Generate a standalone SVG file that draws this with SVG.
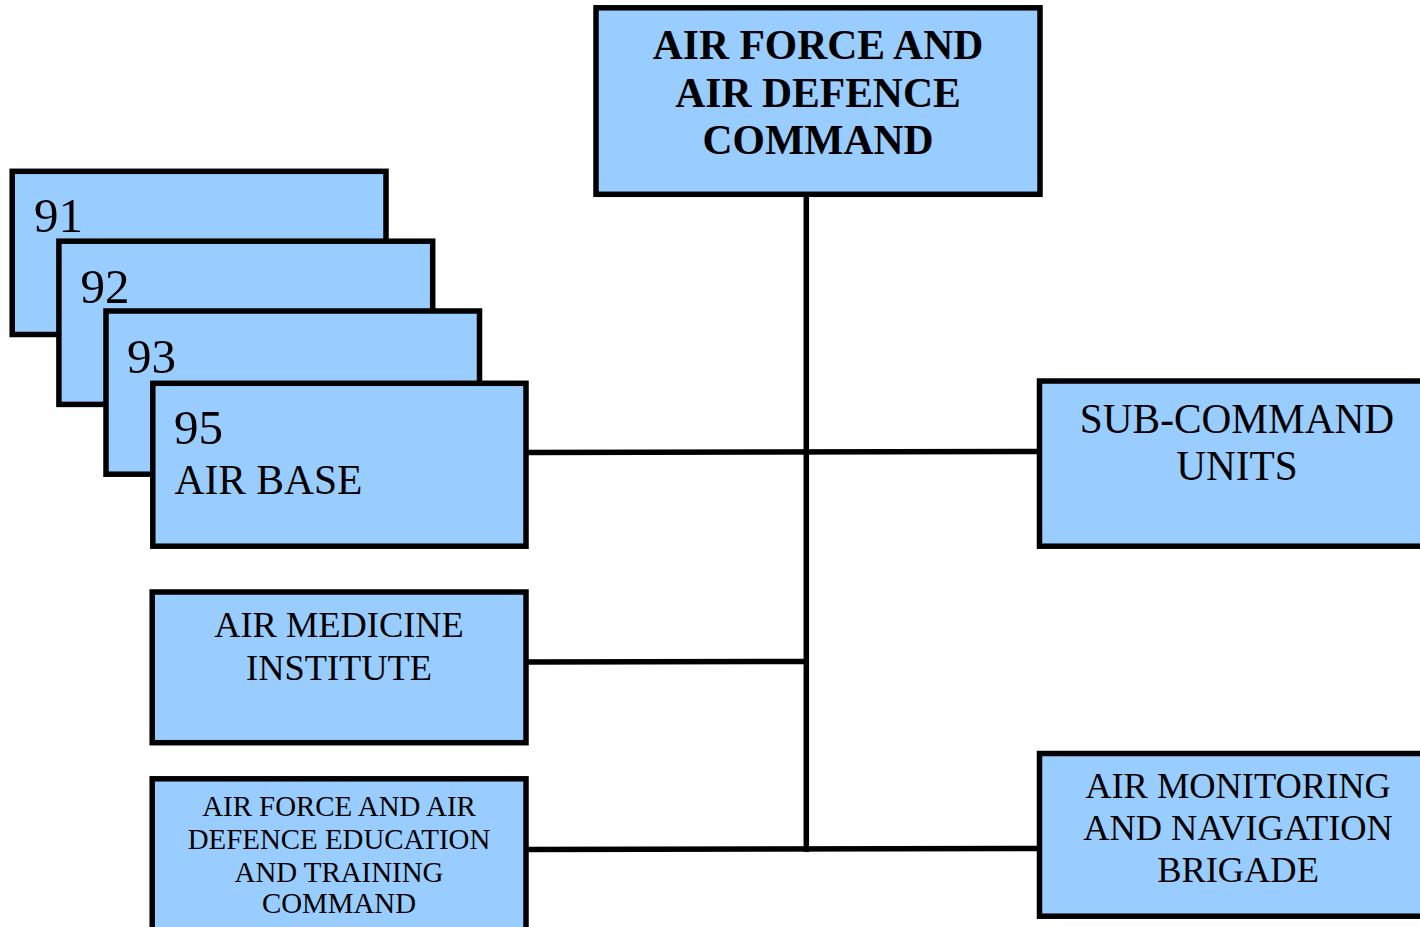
<svg xmlns="http://www.w3.org/2000/svg" width="1420" height="927" viewBox="0 0 1420 927">
<style>
.box{fill:#99ccff;stroke:#000;stroke-width:5.5}
.t{font-family:"Liberation Serif","Times New Roman",serif;fill:#000}
.c{text-anchor:middle}
.conn{stroke:#000;stroke-width:5.5;fill:none}
</style>
<rect width="1420" height="927" fill="#fff"/>
<g id="connectors">
<line class="conn" x1="806.3" y1="194" x2="806.3" y2="852"/>
<line class="conn" x1="526" y1="452.5" x2="1040" y2="451.5"/>
<line class="conn" x1="526" y1="662" x2="806.3" y2="661.5"/>
<line class="conn" x1="526" y1="849.5" x2="1040" y2="848.5"/>
</g>
<g id="node-command">
<rect class="box" x="596" y="7.8" width="444" height="186.5"/>
<text class="t c" font-size="41.6" font-weight="bold" x="818" y="59">AIR FORCE AND</text>
<text class="t c" font-size="41.6" font-weight="bold" x="818" y="107">AIR DEFENCE</text>
<text class="t c" font-size="41.6" font-weight="bold" x="818" y="154">COMMAND</text>
</g>
<g id="node-91">
<rect class="box" x="12.2" y="171.3" width="373.8" height="163.2"/>
<text class="t" font-size="49" x="34" y="232">91</text>
</g>
<g id="node-92">
<rect class="box" x="58.9" y="241.2" width="373.8" height="163.2"/>
<text class="t" font-size="49" x="80.5" y="302.7">92</text>
</g>
<g id="node-93">
<rect class="box" x="106" y="311" width="373.5" height="163.2"/>
<text class="t" font-size="49" x="127" y="372.7">93</text>
</g>
<g id="node-95">
<rect class="box" x="152.8" y="383.3" width="373.2" height="162.9"/>
<text class="t" font-size="49" x="174" y="444">95</text>
<text class="t" font-size="41.5" x="174.5" y="493.5">AIR BASE</text>
</g>
<g id="node-medicine">
<rect class="box" x="152.2" y="592" width="373.8" height="150.7"/>
<text class="t c" font-size="36.4" x="339" y="637">AIR MEDICINE</text>
<text class="t c" font-size="36.4" x="339" y="679.5">INSTITUTE</text>
</g>
<g id="node-education">
<rect class="box" x="152.2" y="778.8" width="373.8" height="160"/>
<text class="t c" font-size="28.9" x="339" y="816">AIR FORCE AND AIR</text>
<text class="t c" font-size="28.9" x="339" y="849">DEFENCE EDUCATION</text>
<text class="t c" font-size="28.9" x="339" y="882">AND TRAINING</text>
<text class="t c" font-size="28.9" x="339" y="913">COMMAND</text>
</g>
<g id="node-subcommand">
<rect class="box" x="1039.5" y="381" width="400" height="165.2"/>
<text class="t c" font-size="41.3" x="1237" y="433">SUB-COMMAND</text>
<text class="t c" font-size="41.3" x="1237" y="480">UNITS</text>
</g>
<g id="node-monitoring">
<rect class="box" x="1039.5" y="753.5" width="400" height="162.7"/>
<text class="t c" font-size="36.4" x="1238" y="798">AIR MONITORING</text>
<text class="t c" font-size="36.4" x="1238" y="840">AND NAVIGATION</text>
<text class="t c" font-size="36.4" x="1238" y="882">BRIGADE</text>
</g>
</svg>
